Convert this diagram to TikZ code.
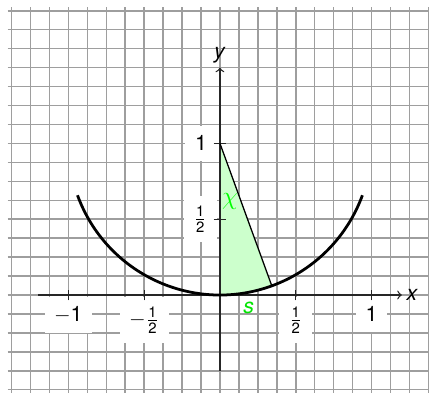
\documentclass[tikz,border=0pt]{standalone}
\usepackage{amsmath}
\usepackage{fontspec}
\setmainfont{TeX Gyre Heros}
\newcommand{\halfsf}{\frac{\text{1}}{\text{2}}}
\begin{document}
\begin{tikzpicture}[x=2.5cm,y=2.5cm,
  gridline/.style={black!38,line width=0.7pt},
  axisline/.style={black!85,line width=0.6pt},
  tickline/.style={black!85,line width=0.6pt},
  curveline/.style={black,line width=1.3pt},
  lbl/.style={fill=white,inner sep=4.5pt},
  greenlbl/.style={text=green!90!black,inner sep=1pt}]
\useasboundingbox (-1.451,-0.640) rectangle (1.379,1.946);
\clip (-1.451,-0.640) rectangle (1.379,1.946);
% grid (in units of 1/8)
\foreach \i in {-11,...,11}{
  \draw[gridline] (\i*0.125,-0.7) -- (\i*0.125,1.9);
}
\foreach \j in {-5,...,15}{
  \draw[gridline] (-1.4,\j*0.125) -- (1.4,\j*0.125);
}
% coordinates
\coordinate (O) at (0,0);
\coordinate (C) at (0,1);
\coordinate (P) at (0.3420,0.0603);
\coordinate (xl) at (-1.2,0);
\coordinate (xr) at (1.2,0);
\coordinate (yb) at (0,-0.5);
\coordinate (yt) at (0,1.5);
% shaded sector
\fill[green!20] (C) -- (O) arc[start angle=-90,end angle=-70,radius=1] -- cycle;
% labels with white background
\node[lbl,anchor=north] (lm1) at (-1,-0.012) {$-$1};
\node[lbl,anchor=north] (lmh) at (-0.5,-0.012) {$-\halfsf$};
\node[lbl,anchor=north] (lph) at (0.5,-0.012) {$\halfsf$};
\node[lbl,anchor=north] (lp1) at (1,-0.012) {1};
\node[lbl,anchor=east] (ly1) at (-0.02,1) {1};
\node[lbl,anchor=east] (lyh) at (-0.02,0.5) {$\halfsf$};
% axes
\draw[axisline,->] (xl) -- (xr);
\draw[axisline,->] (yb) -- (yt);
\node[anchor=west,inner sep=2pt] (xlab) at (xr) {\textit{x}};
\node[anchor=south,inner sep=2pt] (ylab) at (yt) {\textit{y}};
% ticks
\foreach \t/\n in {-1/a,-0.5/b,0.5/c,1/d}{
  \coordinate (tx\n) at (\t,0);
  \draw[tickline] ([yshift=-2.5pt]tx\n) -- ([yshift=2.5pt]tx\n);
}
\foreach \t/\n in {0.5/a,1/b}{
  \coordinate (ty\n) at (0,\t);
  \draw[tickline] ([xshift=-3pt]ty\n) -- ([xshift=3pt]ty\n);
}
% radius line
\draw[black,line width=0.6pt] (C) -- (P);
% arc
\draw[curveline] (0,1) ++(200:1) arc[start angle=200,end angle=340,radius=1];
% green labels
\node[greenlbl,text=green] (chi) at (0.066,0.62) {\fontsize{13}{15}\selectfont$\chi$};
\node[greenlbl] (slab) at (0.19,-0.086) {\textit{s}};
\end{tikzpicture}
\end{document}
